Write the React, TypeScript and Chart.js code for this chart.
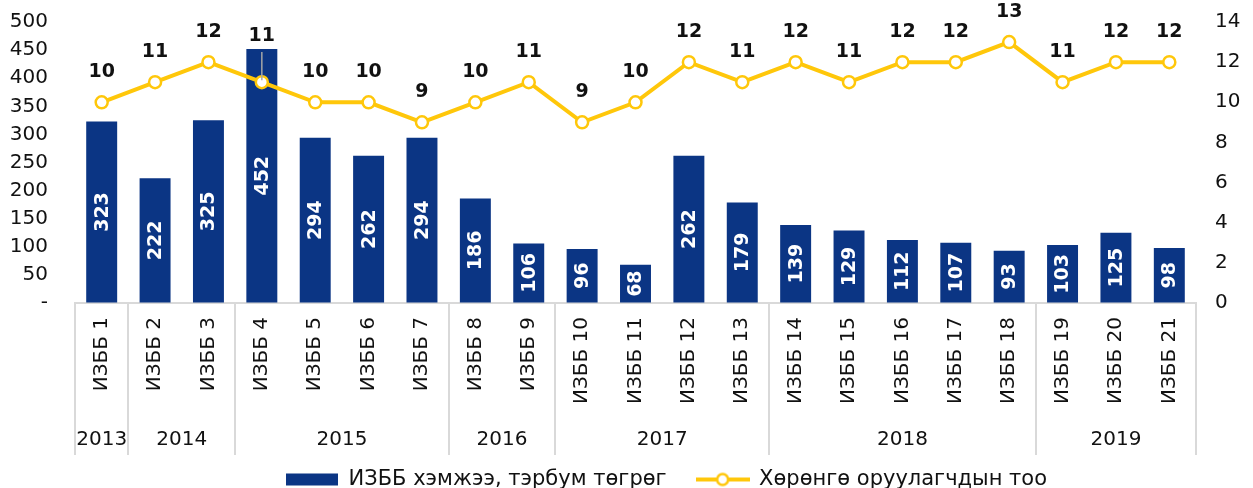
import React, { useEffect, useRef } from 'react';
import { Chart, registerables } from 'chart.js';

Chart.register(...registerables);

const categories = [
  'ИЗББ 1', 'ИЗББ 2', 'ИЗББ 3', 'ИЗББ 4', 'ИЗББ 5', 'ИЗББ 6', 'ИЗББ 7',
  'ИЗББ 8', 'ИЗББ 9', 'ИЗББ 10', 'ИЗББ 11', 'ИЗББ 12', 'ИЗББ 13', 'ИЗББ 14',
  'ИЗББ 15', 'ИЗББ 16', 'ИЗББ 17', 'ИЗББ 18', 'ИЗББ 19', 'ИЗББ 20', 'ИЗББ 21',
];
const years = [
  '2013', '2014', '2014', '2015', '2015', '2015', '2015',
  '2016', '2016', '2017', '2017', '2017', '2017', '2018',
  '2018', '2018', '2018', '2018', '2019', '2019', '2019',
];
const bondVolume = [323, 222, 325, 452, 294, 262, 294, 186, 106, 96, 68, 262, 179, 139, 129, 112, 107, 93, 103, 125, 98];
const investorCount = [10, 11, 12, 11, 10, 10, 9, 10, 11, 9, 10, 12, 11, 12, 11, 12, 12, 13, 11, 12, 12];
const seriesNames = ['ИЗББ хэмжээ, тэрбум төгрөг', 'Хөрөнгө оруулагчдын тоо'];
const leftAxis = { min: 0, max: 500, step: 50 };
const rightAxis = { min: 0, max: 14, step: 2 };

const FONT = "'DejaVu Sans', sans-serif";
const BAR_COLOR = '#0b3584';
const LINE_COLOR = '#ffc70a';
const SEP_COLOR = '#d9d9d9';
const TEXT_COLOR = '#111111';

const annotatePlugin = {
  id: 'annotate',
  afterLayout(chart: any) {
    if (chart.legend) {
      chart.legend.left += 40;
      chart.legend.right += 40;
    }
  },
  afterDatasetsDraw(chart: any) {
    const ctx = chart.ctx;
    const barMeta = chart.getDatasetMeta(0);
    const lineMeta = chart.getDatasetMeta(1);
    ctx.save();
    ctx.font = `bold 19px ${FONT}`;
    ctx.fillStyle = '#ffffff';
    ctx.textAlign = 'center';
    ctx.textBaseline = 'middle';
    barMeta.data.forEach((bar: any, i: number) => {
      const p = bar.getProps(['x', 'y', 'base'], true);
      ctx.save();
      ctx.translate(p.x, (p.y + p.base) / 2);
      ctx.rotate(-Math.PI / 2);
      ctx.fillText(String(bondVolume[i]), 0, 1);
      ctx.restore();
    });
    ctx.fillStyle = TEXT_COLOR;
    lineMeta.data.forEach((pt: any, i: number) => {
      const px = pt.x;
      const py = pt.y;
      const barTop = barMeta.data[i].y;
      let ly = py - 30;
      if (ly + 10 > barTop) {
        ly = barTop - 13;
        ctx.save();
        ctx.strokeStyle = '#a6a6a6';
        ctx.lineWidth = 1.5;
        ctx.beginPath();
        ctx.moveTo(px, ly + 16);
        ctx.lineTo(px, py - 2);
        ctx.stroke();
        ctx.restore();
      }
      ctx.fillText(String(investorCount[i]), px, ly);
    });
    ctx.restore();
  },
  afterDraw(chart: any) {
    const ctx = chart.ctx;
    const xs = chart.scales.x;
    const top = chart.chartArea.bottom;
    const bottom = top + 152;
    ctx.save();
    ctx.strokeStyle = SEP_COLOR;
    ctx.lineWidth = 2;
    const n = categories.length;
    const groups: { start: number; end: number; label: string }[] = [];
    for (let i = 0; i < n; i++) {
      if (i === 0 || years[i] !== years[i - 1]) groups.push({ start: i, end: i, label: years[i] });
      else groups[groups.length - 1].end = i;
    }
    const edges: number[] = [];
    groups.forEach((g) => edges.push(g.start));
    edges.push(n);
    edges.forEach((e) => {
      const x = Math.round(xs.getPixelForValue(e - 0.5));
      ctx.beginPath();
      ctx.moveTo(x, top);
      ctx.lineTo(x, bottom);
      ctx.stroke();
    });
    ctx.fillStyle = TEXT_COLOR;
    ctx.font = `20px ${FONT}`;
    ctx.textAlign = 'center';
    ctx.textBaseline = 'middle';
    groups.forEach((g) => {
      const x = (xs.getPixelForValue(g.start - 0.5) + xs.getPixelForValue(g.end + 0.5)) / 2;
      ctx.fillText(g.label, x, top + 137);
    });
    ctx.restore();
  },
};

function makeLineLegendImage() {
  const c = document.createElement('canvas');
  c.width = 54;
  c.height = 16;
  const g = c.getContext('2d')!;
  g.strokeStyle = LINE_COLOR;
  g.lineWidth = 4;
  g.beginPath();
  g.moveTo(0, 8);
  g.lineTo(54, 8);
  g.stroke();
  g.beginPath();
  g.arc(27, 8, 5.5, 0, Math.PI * 2);
  g.fillStyle = '#ffffff';
  g.fill();
  g.lineWidth = 2.5;
  g.stroke();
  return c;
}

export default function App() {
  const ref = useRef<HTMLCanvasElement>(null);
  useEffect(() => {
    if (!ref.current) return;
    const lineImg = makeLineLegendImage();
    const hiddenGrid = (len: number) => ({
      display: true,
      drawOnChartArea: false,
      drawTicks: true,
      tickLength: len,
      color: 'rgba(0,0,0,0)',
    });
    const chart = new Chart(ref.current, {
      type: 'bar',
      data: {
        labels: categories,
        datasets: [
          {
            type: 'bar',
            label: seriesNames[0],
            data: bondVolume,
            backgroundColor: BAR_COLOR,
            yAxisID: 'y',
            barPercentage: 0.58,
            categoryPercentage: 1,
            order: 1,
          },
          {
            type: 'line',
            label: seriesNames[1],
            data: investorCount,
            borderColor: LINE_COLOR,
            borderWidth: 4,
            pointRadius: 6,
            pointBorderWidth: 2.5,
            pointBackgroundColor: '#ffffff',
            pointBorderColor: LINE_COLOR,
            yAxisID: 'y1',
            tension: 0,
            order: 0,
          } as any,
        ],
      },
      options: {
        responsive: false,
        animation: false,
        layout: { padding: { top: 22, left: 0, right: 0, bottom: 0 } },
        plugins: {
          tooltip: { enabled: false },
          legend: {
            position: 'bottom',
            labels: {
              usePointStyle: true,
              pointStyleWidth: 52,
              boxHeight: 12,
              padding: 30,
              color: TEXT_COLOR,
              font: { family: FONT, size: 21 },
              sort: (a: any, b: any) => a.datasetIndex - b.datasetIndex,
              generateLabels: (ch: any) => {
                const items = (Chart.defaults.plugins.legend.labels as any).generateLabels(ch);
                items.forEach((it: any) => {
                  if (it.datasetIndex === 0) {
                    it.pointStyle = 'rect';
                    it.lineWidth = 0;
                    it.fillStyle = BAR_COLOR;
                  } else {
                    it.pointStyle = lineImg;
                  }
                });
                return items;
              },
            },
          },
        },
        scales: {
          x: {
            grid: { display: false, drawTicks: false },
            border: { display: true, color: SEP_COLOR, width: 2 },
            ticks: {
              autoSkip: false,
              maxRotation: 90,
              minRotation: 90,
              padding: 14,
              color: TEXT_COLOR,
              font: { family: FONT, size: 20 },
            },
            afterFit: (s: any) => {
              s.height = 136;
            },
          },
          y: {
            position: 'left',
            min: leftAxis.min,
            max: leftAxis.max,
            grid: hiddenGrid(27),
            border: { display: false },
            ticks: {
              stepSize: leftAxis.step,
              autoSkip: false,
              padding: 0,
              color: TEXT_COLOR,
              font: { family: FONT, size: 20 },
              callback: (v: any) => (v === 0 ? '-' : String(v)),
            },
            afterFit: (s: any) => {
              s.width = 75;
            },
          },
          y1: {
            position: 'right',
            min: rightAxis.min,
            max: rightAxis.max,
            grid: hiddenGrid(19),
            border: { display: false },
            ticks: {
              stepSize: rightAxis.step,
              autoSkip: false,
              padding: 0,
              color: TEXT_COLOR,
              font: { family: FONT, size: 20 },
            },
            afterFit: (s: any) => {
              s.width = 57;
            },
          },
        },
      } as any,
      plugins: [annotatePlugin],
    });
    return () => chart.destroy();
  }, []);
  return (
    <div style={{ position: 'fixed', left: 0, top: 0, width: 1253, height: 500, background: '#fff' }}>
      <canvas ref={ref} width={1253} height={500} />
    </div>
  );
}
